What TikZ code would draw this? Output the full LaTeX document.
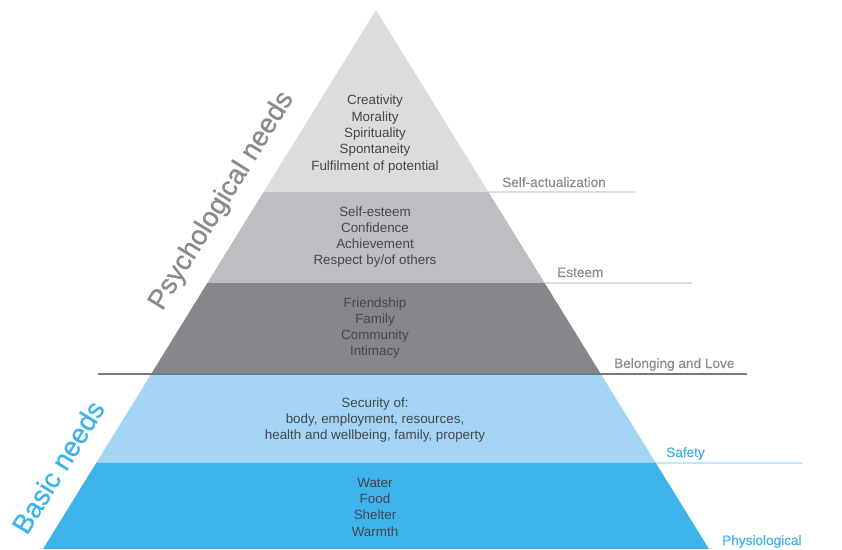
\documentclass[tikz,border=0pt]{standalone}
\usepackage{fontspec}
\setmainfont{Liberation Sans}
\newfontfamily\lblfont[FakeBold=0.4]{Liberation Sans}
\newfontfamily\sidefont[FakeBold=0.8]{Liberation Sans}
\usetikzlibrary{calc}
\definecolor{cSelf}{HTML}{DCDCDE}
\definecolor{cEst}{HTML}{BDBEC1}
\definecolor{cBel}{HTML}{86878B}
\definecolor{cSaf}{HTML}{A5D5F5}
\definecolor{cPhy}{HTML}{3EB3EB}
\definecolor{cGrayLbl}{HTML}{8A8A8E}
\definecolor{cBlueLbl}{HTML}{3EB3EB}
\definecolor{cTxt}{HTML}{45464A}
\definecolor{cLineLight}{HTML}{C9C9CD}
\begin{document}
\begin{tikzpicture}[x=1pt,y=-1pt,
  bandtext/.style={align=center,text=cTxt,font=\fontsize{13.4}{16.3}\selectfont,inner sep=0pt},
  lvllabel/.style={anchor=base west,inner sep=0pt,font=\lblfont\fontsize{13.6}{16}\selectfont},
  sidelabel/.style={rotate=58.3,inner sep=0pt,font=\sidefont\fontsize{27.5}{30}\selectfont}]
\useasboundingbox (0,0) rectangle (842,549);
\coordinate (A) at (376,10);
\coordinate (BL) at (43,549);
\coordinate (BR) at (709,549);
\foreach \n/\t in {1/0.3377,2/0.5065,3/0.6753,4/0.8404}{
  \coordinate (L\n) at ($(A)!\t!(BL)$);
  \coordinate (R\n) at ($(A)!\t!(BR)$);
}
% bands
\fill[cSelf] (A) -- (R1) -- (L1) -- cycle;
\fill[cEst] (L1) -- (R1) -- (R2) -- (L2) -- cycle;
\fill[cBel] (L2) -- (R2) -- (R3) -- (L3) -- cycle;
\fill[cSaf] (L3) -- (R3) -- (R4) -- (L4) -- cycle;
\fill[cPhy] (L4) -- (R4) -- (BR) -- (BL) -- cycle;
% level lines
\coordinate (E1) at (635,192);
\coordinate (E2) at (692,283);
\coordinate (E3a) at (98,374);
\coordinate (E3b) at (747,374);
\coordinate (E4) at (802,463);
\draw[cLineLight,line width=1.3pt] (R1) -- (E1);
\draw[cLineLight,line width=1.3pt] (R2) -- (E2);
\draw[cBel!90!black,line width=2pt] (E3a) -- (E3b);
\draw[cSaf,line width=1.4pt] (R4) -- (E4);
% level labels
\node[lvllabel,text=cGrayLbl] (lSelf) at (502,187) {Self-actualization};
\node[lvllabel,text=cGrayLbl] (lEst) at (557,277) {Esteem};
\node[lvllabel,text=cGrayLbl] (lBel) at (614,368) {Belonging and Love};
\node[lvllabel,text=cBlueLbl] (lSaf) at (666,457) {Safety};
\node[lvllabel,text=cBlueLbl] (lPhy) at (722,545) {Physiological};
% band texts
\node[bandtext] (tSelf) at (375,134) {Creativity\\Morality\\Spirituality\\Spontaneity\\Fulfilment of potential};
\node[bandtext] (tEst) at (375,237) {Self-esteem\\Confidence\\Achievement\\Respect by/of others};
\node[bandtext] (tBel) at (375,328) {Friendship\\Family\\Community\\Intimacy};
\node[bandtext] (tSaf) at (375,420) {Security of:\\body, employment, resources,\\health and wellbeing, family, property};
\node[bandtext] (tPhy) at (375,507) {Water\\Food\\Shelter\\Warmth};
% side labels
\node[sidelabel,text=cGrayLbl] (psy) at (222,201) {Psychological needs};
\node[sidelabel,text=cBlueLbl] (basic) at (58,467) {Basic needs};
\end{tikzpicture}
\end{document}
